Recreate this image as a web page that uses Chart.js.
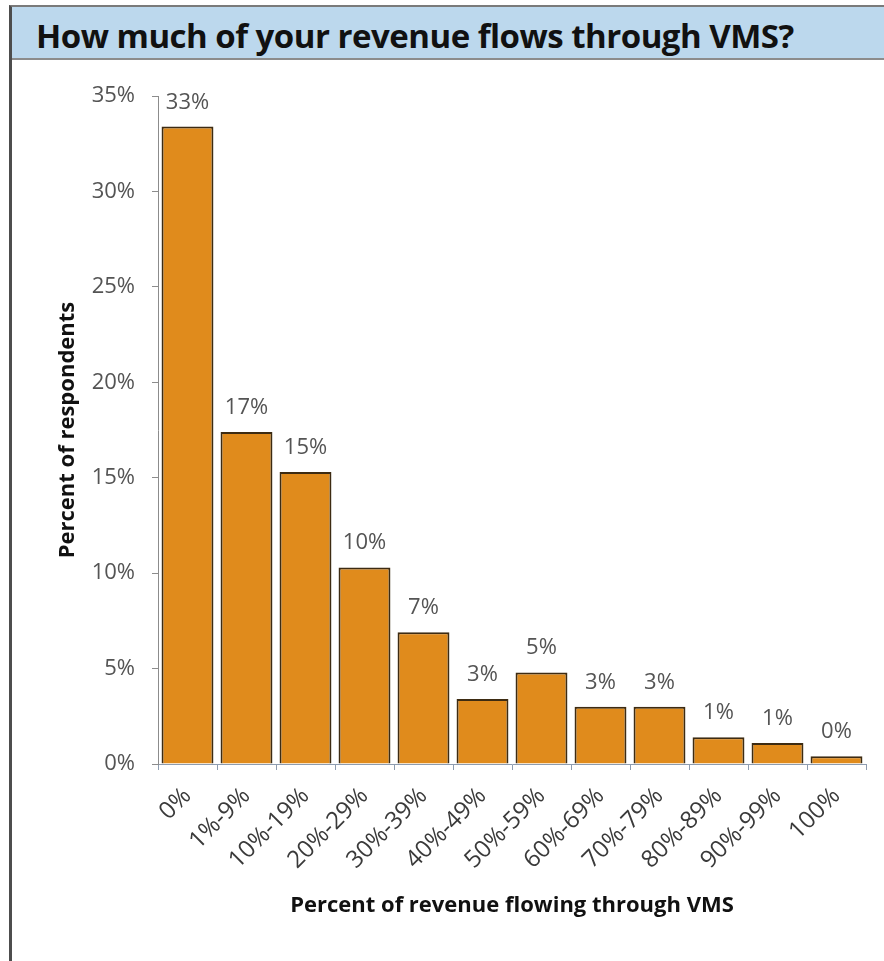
<!DOCTYPE html>
<html>
<head>
<meta charset="utf-8">
<script src="https://cdn.jsdelivr.net/npm/chart.js@4.4.1/dist/chart.umd.min.js"></script>
<style>
  html, body { margin: 0; padding: 0; background: #fff; }
  body { width: 884px; height: 961px; position: relative; overflow: hidden; font-family: "Open Sans", sans-serif; }
  #frame {
    position: absolute; left: 9px; top: 5px; right: 0; bottom: 0;
    border-left: 3px solid #4d4d4d; border-top: 2px solid #7a7a7a;
  }
  #heading {
    position: absolute; left: 12px; top: 7px; right: 0; height: 49px;
    padding: 2px 0 0 24px;
    background: #bcd8ed; border-bottom: 2px solid #8c8c8c;
    font: bold 33px/53px "Open Sans", sans-serif; color: #111;
    letter-spacing: -0.5px; white-space: nowrap;
  }
  #wrap { position: absolute; left: 12px; top: 60px; width: 872px; height: 901px; }
</style>
</head>
<body>
<div id="frame"></div>
<div id="heading">How much of your revenue flows through VMS?</div>
<div id="wrap"><canvas id="chart" width="872" height="901"></canvas></div>
<script>
// revenue buckets and share of respondents in each (percent)
const buckets = ['0%', '1%-9%', '10%-19%', '20%-29%', '30%-39%', '40%-49%',
                 '50%-59%', '60%-69%', '70%-79%', '80%-89%', '90%-99%', '100%'];
const shares  = [33.4, 17.4, 15.3, 10.3, 6.9, 3.4, 4.8, 3.0, 3.0, 1.4, 1.1, 0.4];
const yTicks  = [0, 5, 10, 15, 20, 25, 30, 35];

const FONT = '"Open Sans", sans-serif';

// prints the rounded share above each bar
const valueLabels = {
  id: 'valueLabels',
  afterDatasetsDraw(chart) {
    const { ctx } = chart;
    const meta = chart.getDatasetMeta(0);
    ctx.save();
    ctx.font = `22px ${FONT}`;
    ctx.fillStyle = '#545454';
    ctx.textAlign = 'center';
    ctx.textBaseline = 'alphabetic';
    meta.data.forEach((bar, i) => {
      ctx.fillText(Math.round(shares[i]) + '%', bar.x, bar.y - 18);
    });
    ctx.restore();
  }
};

new Chart(document.getElementById('chart'), {
  type: 'bar',
  data: {
    labels: buckets,
    datasets: [{
      data: shares,
      backgroundColor: '#e08b1c',
      borderColor: '#3d2b12',
      borderWidth: 2,
      categoryPercentage: 1,
      barPercentage: 0.88,
    }]
  },
  options: {
    responsive: false,
    animation: false,
    devicePixelRatio: 1,
    layout: { padding: { top: 36, right: 18, bottom: 0, left: 0 } },
    plugins: { legend: { display: false }, tooltip: { enabled: false } },
    scales: {
      x: {
        grid: { display: true, offset: true, drawOnChartArea: false, drawTicks: true,
                tickLength: 6, color: '#8d9cb0', lineWidth: 1 },
        border: { display: true, color: '#8d9cb0', width: 1 },
        ticks: { color: '#3a3a3a', font: { family: FONT, size: 24 },
                 minRotation: 45, maxRotation: 45, padding: 12, autoSkip: false },
        title: { display: true, text: 'Percent of revenue flowing through VMS',
                 color: '#111', font: { family: FONT, size: 22, weight: 'bold' },
                 padding: { top: 0, bottom: 42 } },
        afterFit(scale) { scale.height = 197; }
      },
      y: {
        min: 0, max: 35,
        afterBuildTicks(scale) { scale.ticks = yTicks.map(v => ({ value: v })); },
        grid: { display: true, drawOnChartArea: false, drawTicks: true,
                tickLength: 6, color: '#8c8c8c', lineWidth: 1 },
        border: { display: true, color: '#8c8c8c', width: 1 },
        ticks: { color: '#545454', font: { family: FONT, size: 22 }, padding: 17,
                 callback: v => v + '%' },
        title: { display: true, text: 'Percent of respondents',
                 color: '#111', font: { family: FONT, size: 22, weight: 'bold' },
                 padding: { top: 43, bottom: 0 } },
        afterFit(scale) { scale.width = 146; }
      }
    }
  },
  plugins: [valueLabels]
});
</script>
</body>
</html>
